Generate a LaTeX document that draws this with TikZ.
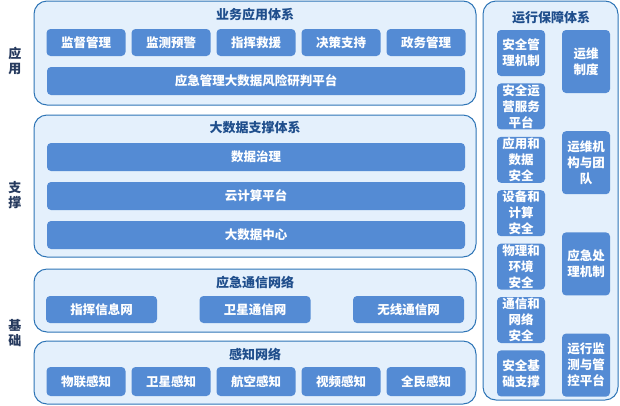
\documentclass[tikz,border=0pt]{standalone}
\usepackage{fontspec}
\setmainfont{Noto Sans CJK SC}
\definecolor{lineblue}{RGB}{46,117,182}
\definecolor{paleblue}{RGB}{228,240,252}
\definecolor{midblue}{RGB}{84,139,212}
\definecolor{darkblue}{RGB}{31,78,140}
\definecolor{tagnavy}{RGB}{38,58,94}
\tikzset{
  layer/.style={draw=lineblue,fill=paleblue,line width=1pt,rounded corners=13pt},
  block/.style={fill=midblue,text=white,rounded corners=4pt,inner sep=0pt,align=center,
    font=\fontsize{12.5}{16}\selectfont\bfseries},
  layertitle/.style={text=darkblue,font=\fontsize{13}{16}\selectfont\bfseries},
  sidetag/.style={text=tagnavy,align=center,font=\fontsize{13}{15}\selectfont\bfseries}
}
\begin{document}
\begin{tikzpicture}[x=1pt,y=-1pt]
      \useasboundingbox (0,0) rectangle (620,405);
      \draw[layer] (34,1) rectangle (476,105);
      \draw[layer] (34,115) rectangle (476,257);
      \draw[layer] (34,269) rectangle (476,332);
      \draw[layer] (34,341) rectangle (476,404);
      \draw[layer] (483,1) rectangle (618,400);
      \node[sidetag] (tagapp) at (15,61) {应\\用};
      \node[sidetag] (tagsup) at (15,195) {支\\撑};
      \node[sidetag] (tagbase) at (15,333) {基\\础};
      \node[layertitle] (appttl) at (255,15) {业务应用体系};
      \foreach \t [count=\i] in {监督管理,监测预警,指挥救援,决策支持,政务管理}
        \node[block,minimum width=79pt,minimum height=27pt] (app\i) at ({86+85*(\i-1)},42.5) {\t};
      \node[block,minimum width=418pt,minimum height=28pt] (risk) at (256,81) {应急管理大数据风险研判平台};
      \node[layertitle] (bigttl) at (255,128) {大数据支撑体系};
      \foreach \t [count=\i] in {数据治理,云计算平台,大数据中心}
        \node[block,minimum width=418pt,minimum height=28pt] (big\i) at (256,{157+39*(\i-1)}) {\t};
      \node[layertitle] (netttl) at (255,283) {应急通信网络};
      \foreach \t [count=\i] in {指挥信息网,卫星通信网,无线通信网}
        \node[block,minimum width=111pt,minimum height=27pt] (net\i) at ({101.5+153.5*(\i-1)},309.5) {\t};
      \node[layertitle] (senttl) at (255,354) {感知网络};
      \foreach \t [count=\i] in {物联感知,卫星感知,航空感知,视频感知,全民感知}
        \node[block,minimum width=79pt,minimum height=29pt] (sen\i) at ({86+85*(\i-1)},381.5) {\t};
      \node[layertitle] (opsttl) at (551,18) {运行保障体系};
      \foreach \t [count=\i] in {{安全管\\理机制},{安全运\\营服务\\平台},{应用和\\数据\\安全},{设备和\\计算\\安全},{物理和\\环境\\安全},{通信和\\网络\\安全},{安全基\\础支撑}}
        \node[block,minimum width=48pt,minimum height=46pt] (sec\i) at (521,{53+53.4*(\i-1)}) {\t};
      \foreach \t [count=\i] in {{运维\\制度},{运维机\\构与团\\队},{应急处\\理机制},{运行监\\测与管\\控平台}}
        \node[block,minimum width=48pt,minimum height=63pt] (ops\i) at (586,{61.5+101.2*(\i-1)}) {\t};
\end{tikzpicture}
\end{document}
